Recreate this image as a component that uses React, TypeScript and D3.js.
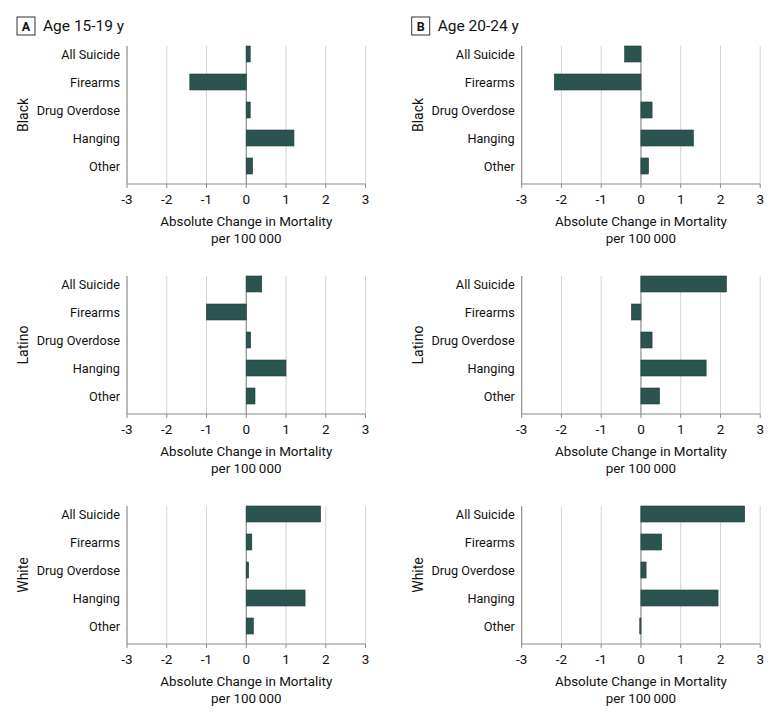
import * as d3 from 'd3';

// categories and groups
const categories = ['All Suicide', 'Firearms', 'Drug Overdose', 'Hanging', 'Other'];
const races = ['Black', 'Latino', 'White'];
const xTicks = [-3, -2, -1, 0, 1, 2, 3];

// absolute change in mortality per 100 000, age 15-19 y
const black15to19 = [0.1, -1.42, 0.1, 1.2, 0.16];
const latino15to19 = [0.39, -1.0, 0.11, 1.0, 0.22];
const white15to19 = [1.87, 0.14, 0.06, 1.48, 0.18];

// absolute change in mortality per 100 000, age 20-24 y
const black20to24 = [-0.41, -2.18, 0.28, 1.32, 0.19];
const latino20to24 = [2.15, -0.24, 0.28, 1.64, 0.47];
const white20to24 = [2.61, 0.52, 0.13, 1.94, -0.03];

const panels = [
  { letter: 'A', title: 'Age 15-19 y', series: [black15to19, latino15to19, white15to19] },
  { letter: 'B', title: 'Age 20-24 y', series: [black20to24, latino20to24, white20to24] },
];

const font = 'Roboto, "Noto Sans", sans-serif';
const barColor = '#2b5451';
const textColor = '#111';

const Panel = ({ values, race, left, top }) => {
  const plotW = 238.5;
  const plotH = 138;

  const x = d3.scaleLinear().domain([-3, 3]).range([left, left + plotW]);
  const y = d3.scaleBand()
    .domain(categories)
    .range([top - 6, top + 134])
    .paddingInner(12 / 28)
    .paddingOuter(6 / 28);

  const bottom = top + plotH;

  return (
    <g>
      {/* grid */}
      {xTicks.map((t) => (
        <line
          key={'g' + t}
          x1={x(t)} x2={x(t)} y1={top} y2={bottom}
          stroke={t === -3 || t === 0 ? '#8c8c8c' : '#d4d4d4'}
          strokeWidth={t === -3 || t === 0 ? 1.2 : 1}
        />
      ))}
      {/* bars */}
      {values.map((v, i) => (
        <rect
          key={categories[i]}
          x={Math.min(x(0), x(v))}
          y={y(categories[i])}
          width={Math.abs(x(v) - x(0))}
          height={y.bandwidth()}
          fill={barColor}
          stroke="#1e3d3b"
          strokeWidth={0.6}
        />
      ))}
      {/* x axis */}
      <line x1={x(-3)} x2={x(3)} y1={bottom} y2={bottom} stroke="#8c8c8c" strokeWidth={1.2} />
      {xTicks.map((t) => (
        <g key={'t' + t}>
          <line x1={x(t)} x2={x(t)} y1={bottom} y2={bottom + 4} stroke="#8c8c8c" />
          <text x={x(t)} y={bottom + 20} textAnchor="middle" fontSize={13.5} fill={textColor}>
            {t}
          </text>
        </g>
      ))}
      <text x={x(0)} y={bottom + 42} textAnchor="middle" fontSize={13.4} fill={textColor}>
        Absolute Change in Mortality
      </text>
      <text x={x(0)} y={bottom + 59} textAnchor="middle" fontSize={13.4} fill={textColor}>
        per 100{'\u2009'}000
      </text>
      {/* category labels */}
      {categories.map((c) => (
        <text
          key={'c' + c}
          x={left - 7}
          y={y(c) + y.bandwidth() / 2 + 4.5}
          textAnchor="end"
          fontSize={12.7}
          fill={textColor}
        >
          {c}
        </text>
      ))}
      {/* race label */}
      <text
        transform={`translate(${left - 99},${top + plotH / 2}) rotate(-90)`}
        textAnchor="middle"
        fontSize={14}
        fill={textColor}
      >
        {race}
      </text>
    </g>
  );
};

export default function App() {
  const lefts = [127, 521.7];
  const tops = [46, 276, 506];

  return (
    <div style={{ position: 'absolute', left: 0, top: 0 }}>
      <svg width={780} height={717} style={{ display: 'block', fontFamily: font }}>
        <rect width={780} height={717} fill="#fff" />
        {panels.map((p, pi) => (
          <g key={p.letter}>
            <rect
              x={lefts[pi] - 110} y={17} width={18} height={18}
              fill="#fff" stroke="#333" strokeWidth={1}
            />
            <text x={lefts[pi] - 101} y={31} textAnchor="middle" fontSize={12.5} fontWeight="bold" fill={textColor}>
              {p.letter}
            </text>
            <text x={lefts[pi] - 84} y={31} fontSize={15.5} fill={textColor}>
              {p.title}
            </text>
            {p.series.map((vals, ri) => (
              <Panel key={races[ri]} values={vals} race={races[ri]} left={lefts[pi]} top={tops[ri]} />
            ))}
          </g>
        ))}
      </svg>
    </div>
  );
}
